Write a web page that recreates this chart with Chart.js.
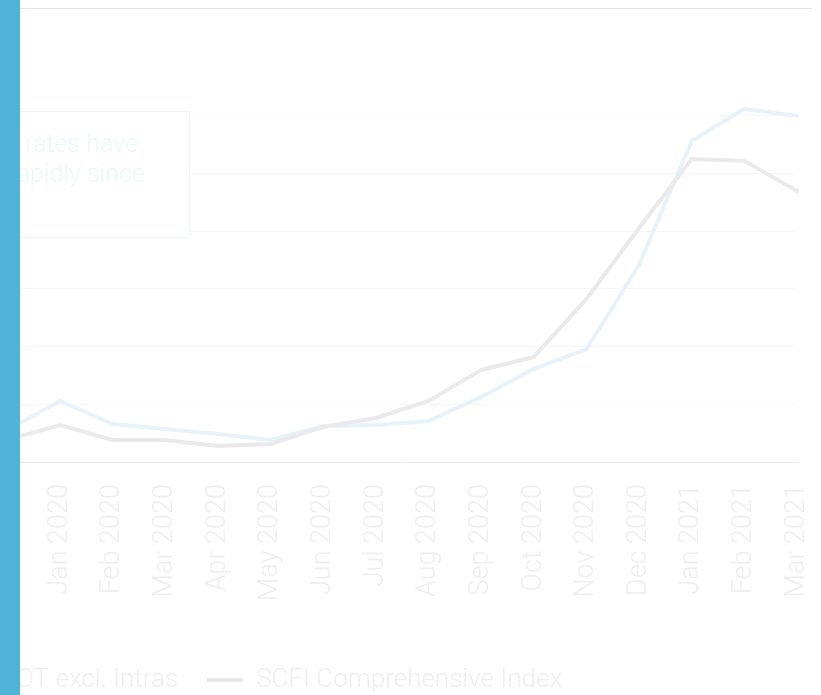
<!DOCTYPE html>
<html>
<head>
<meta charset="utf-8">
<script src="https://cdn.jsdelivr.net/npm/chart.js@4/dist/chart.umd.min.js"></script>
<style>
  html, body { margin: 0; padding: 0; width: 821px; height: 695px; overflow: hidden; background: #fff; }
  #stage { position: relative; width: 821px; height: 695px; overflow: hidden; }
  #wrap { position: absolute; top: 0; }
  .rule { position: absolute; left: 0; top: 8px; width: 812px; height: 1px; background: #e6e6e6; }
  .note {
    position: absolute; top: 111px; left: -80px; width: 270px; height: 127px;
    box-sizing: border-box; border: 1.5px solid #ecf5fa; background: #fff;
    padding: 17px 0 0 28px; font: 300 25px/30px Roboto, sans-serif; color: #eef7fb; white-space: nowrap;
  }
  .side { position: absolute; left: 0; top: 0; width: 20px; height: 695px; background: #4fb4d8; }
</style>
</head>
<body>
<div id="stage">
  <div class="rule"></div>
  <div id="wrap"><canvas id="chart"></canvas></div>
  <div class="note">Ocean rates have<br>risen rapidly since</div>
  <div class="side"></div>
</div>
<script>
// Monthly freight rate series
const months = [
  'Dec 2019', 'Jan 2020', 'Feb 2020', 'Mar 2020', 'Apr 2020', 'May 2020', 'Jun 2020', 'Jul 2020',
  'Aug 2020', 'Sep 2020', 'Oct 2020', 'Nov 2020', 'Dec 2020', 'Jan 2021', 'Feb 2021', 'Mar 2021'
];
const ctsTotal = [1022, 1223, 1063, 1029, 994, 953, 1050, 1056, 1084, 1251, 1445, 1583, 2166, 3025, 3247, 3199];
const scfiComp = [953, 1056, 953, 953, 911, 925, 1043, 1105, 1223, 1438, 1528, 1930, 2422, 2900, 2887, 2679];
const yTicks = [800, 1200, 1600, 2000, 2400, 2800, 3200];
const seriesNames = ['CTS Global Price Index TOT excl. Intras', 'SCFI Comprehensive Index'];

// Layout of the plot inside the visible page
const VIEW_W = 821, PLOT_L = 7.4, PLOT_R = 797, PLOT_T = 58, PLOT_B = 462;
const LEG_FONT = 26, LEG_PAD = 29, SWATCH = 36, LEG_TOP = 638, CANVAS_H = 703;
const FONT = 'Roboto', WEIGHT = 300;

// Size the canvas so the legend sits where wanted while the y-axis side runs off to the left
const meas = document.createElement('canvas').getContext('2d');
meas.font = WEIGHT + ' ' + LEG_FONT + 'px ' + FONT;
const itemW = seriesNames.map(t => SWATCH + LEG_FONT / 2 + meas.measureText(t).width);
const lineW = itemW[0] + itemW[1] + 2 * LEG_PAD;
const secondItemX = 207;
const firstItemX = secondItemX - itemW[0] - LEG_PAD;
const canvasLeft = Math.round(2 * firstItemX + lineW - LEG_PAD - PLOT_R);

const wrap = document.getElementById('wrap');
wrap.style.left = canvasLeft + 'px';
wrap.style.width = (VIEW_W - canvasLeft) + 'px';
wrap.style.height = CANVAS_H + 'px';

new Chart(document.getElementById('chart'), {
  type: 'line',
  data: {
    labels: months,
    datasets: [
      {
        label: seriesNames[0], data: ctsTotal,
        borderColor: '#e7f3f9', backgroundColor: '#e7f3f9',
        borderWidth: 4, borderCapStyle: 'round', pointRadius: 0, pointHoverRadius: 0,
        tension: 0, fill: false, order: 1
      },
      {
        label: seriesNames[1], data: scfiComp,
        borderColor: '#eaeaea', backgroundColor: '#eaeaea',
        borderWidth: 4, borderCapStyle: 'round', pointRadius: 0, pointHoverRadius: 0,
        tension: 0, fill: false, order: 0
      }
    ]
  },
  options: {
    responsive: true,
    maintainAspectRatio: false,
    devicePixelRatio: 1,
    animation: false,
    events: [],
    layout: { padding: { left: 0, right: VIEW_W - PLOT_R, top: PLOT_T, bottom: 0 } },
    plugins: {
      tooltip: { enabled: false },
      legend: {
        position: 'bottom',
        labels: {
          font: { family: FONT, size: LEG_FONT, weight: WEIGHT },
          color: '#eeeeee',
          padding: LEG_PAD,
          usePointStyle: true,
          pointStyle: 'line',
          pointStyleWidth: SWATCH,
          sort: (a, b) => a.datasetIndex - b.datasetIndex
        }
      }
    },
    scales: {
      x: {
        grid: { display: false },
        border: { display: true, color: '#e8e8e8', width: 1 },
        ticks: {
          font: { family: FONT, size: 27, weight: WEIGHT },
          color: '#eeeeee',
          padding: 14,
          minRotation: 90,
          maxRotation: 90,
          autoSkip: false
        },
        afterFit: s => { s.height = LEG_TOP - PLOT_B; s.paddingLeft = 0; s.paddingRight = 0; }
      },
      y: {
        min: 800,
        max: 3600,
        grid: { color: '#f6f6f6', lineWidth: 1, drawTicks: false },
        border: { display: false },
        ticks: { display: false },
        afterBuildTicks: s => { s.ticks = yTicks.map(v => ({ value: v })); },
        afterFit: s => { s.width = PLOT_L - canvasLeft; s.paddingTop = 0; s.paddingBottom = 0; }
      }
    }
  }
});
</script>
</body>
</html>
